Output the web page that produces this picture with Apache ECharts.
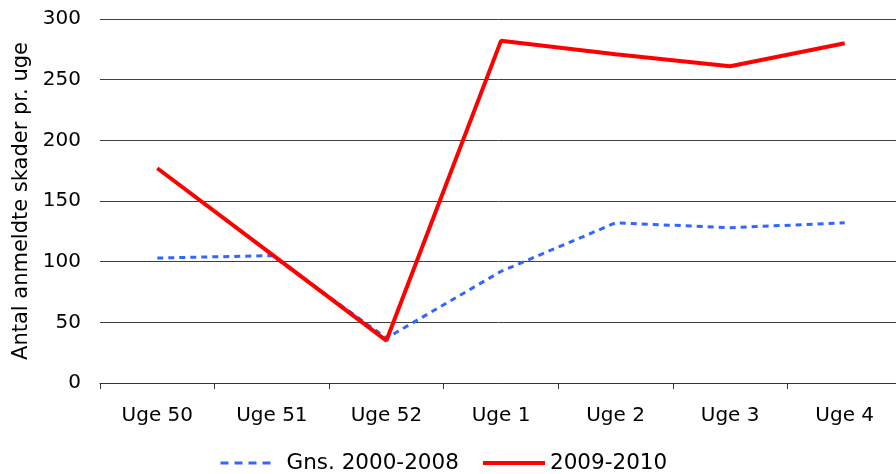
<!DOCTYPE html>
<html><head><meta charset="utf-8">
<script src="https://cdn.jsdelivr.net/npm/echarts@6/dist/echarts.min.js"></script>
<style>html,body{margin:0;padding:0;background:#fff}#c{width:896px;height:474px}</style>
</head><body><div id="c"></div>
<script>
const categories = ['Uge 50','Uge 51','Uge 52','Uge 1','Uge 2','Uge 3','Uge 4'];
const avg2000_2008 = [103, 105, 37, 92, 132, 128, 132];
const season2009_2010 = [177, 106, 35, 282, 271, 261, 280];
const seriesNames = ['Gns. 2000-2008', '2009-2010'];
const yAxisTitle = 'Antal anmeldte skader pr. uge';

const font = 'DejaVu Sans';
const chart = echarts.init(document.getElementById('c'), null, {renderer:'canvas'});
const legendText = {fontFamily:font, fontSize:21.5, color:'#000'};
chart.setOption({
  animation:false,
  backgroundColor:'#fff',
  textStyle:{fontFamily:font},
  grid:{left:100, top:19, width:802, height:364, containLabel:false, outerBoundsMode:'none'},
  legend:[
    {top:452, left:219, itemWidth:56, itemHeight:14, padding:0,
     itemStyle:{opacity:0},
     lineStyle:{width:3, type:[8,6]},
     textStyle:Object.assign({padding:[0,0,0,5]}, legendText),
     data:[seriesNames[0]]},
    {top:452, left:481, itemWidth:62, itemHeight:14, padding:0,
     itemStyle:{opacity:0},
     lineStyle:{width:4},
     textStyle:legendText,
     data:[seriesNames[1]]}
  ],
  xAxis:{
    type:'category', data:categories, boundaryGap:true,
    axisLine:{lineStyle:{color:'#333', width:1}},
    axisTick:{show:true, length:6, lineStyle:{color:'#333'}},
    axisLabel:{color:'#000', fontFamily:font, fontSize:20, margin:23}
  },
  yAxis:{
    type:'value', min:0, max:300, interval:50,
    name:yAxisTitle, nameLocation:'middle', nameGap:67, nameRotate:90,
    nameTextStyle:{fontFamily:font, fontSize:21, color:'#000'},
    axisLine:{show:false}, axisTick:{show:false},
    axisLabel:{color:'#000', fontFamily:font, fontSize:20, margin:19},
    splitLine:{lineStyle:{color:'#404040', width:1}}
  },
  series:[
    {name:seriesNames[0], type:'line', data:avg2000_2008, symbol:'none', z:2,
     color:'#3366FF',
     lineStyle:{color:'#3366FF', width:3, type:[6,5]}},
    {name:seriesNames[1], type:'line', data:season2009_2010, symbol:'none', z:3,
     color:'#FF0000',
     lineStyle:{color:'#FF0000', width:4}}
  ]
});
</script></body></html>
